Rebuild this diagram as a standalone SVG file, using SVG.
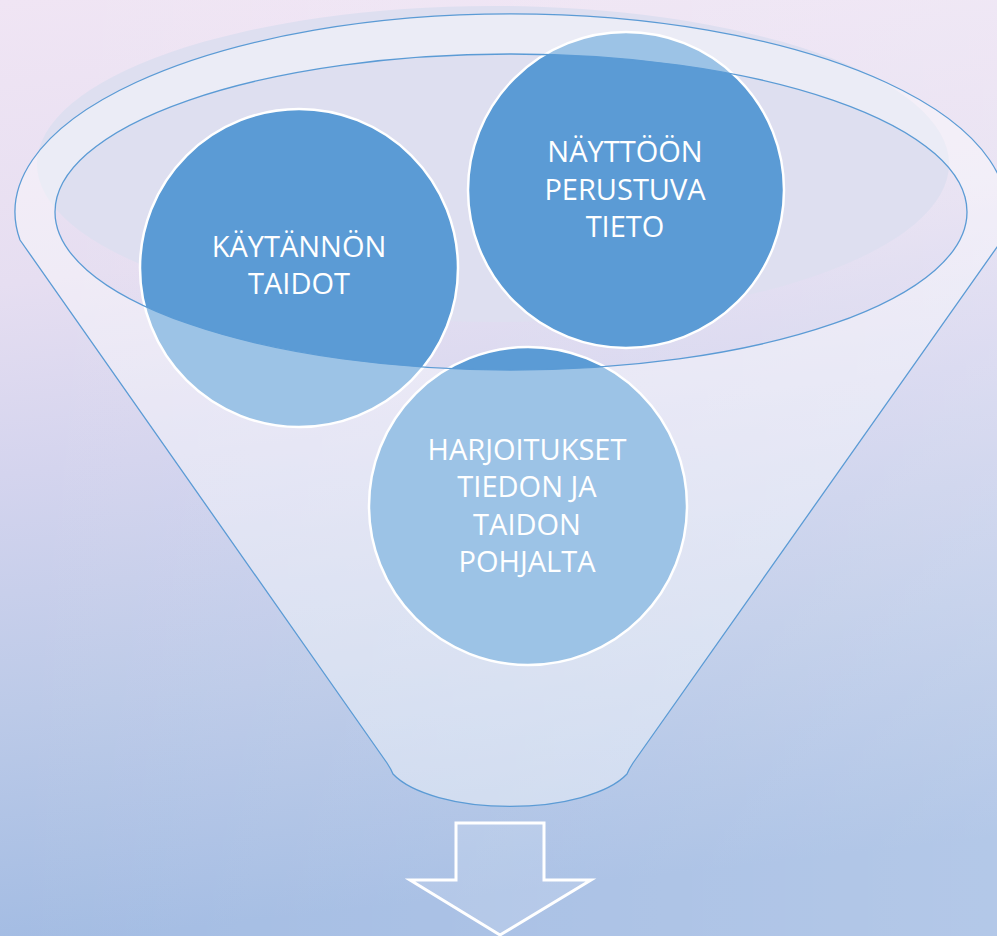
<svg xmlns="http://www.w3.org/2000/svg" width="997" height="936" viewBox="0 0 997 936">
  <defs>
    <linearGradient id="bg" x1="0" y1="0" x2="0.12" y2="1">
      <stop offset="0" stop-color="#f0e5f4"/>
      <stop offset="0.3" stop-color="#e6def1"/>
      <stop offset="0.5" stop-color="#d4d4ee"/>
      <stop offset="0.75" stop-color="#bccae8"/>
      <stop offset="1" stop-color="#a3bce3"/>
    </linearGradient>
    <linearGradient id="bgh" x1="0" y1="0" x2="1" y2="0">
      <stop offset="0" stop-color="#ffffff" stop-opacity="0"/>
      <stop offset="1" stop-color="#ffffff" stop-opacity="0.18"/>
    </linearGradient>
    <style>
      .circle { fill: #5b9bd5; stroke: #ffffff; stroke-width: 2.5; }
      .label { font-family: "Open Sans", "Liberation Sans", sans-serif; font-size: 29px; fill: #ffffff; text-anchor: middle; }
      .funnel-body { fill: #ffffff; fill-opacity: 0.4; fill-rule: evenodd; stroke: none; }
      .funnel-line { fill: none; stroke: #5b9bd5; stroke-width: 1.3; }
      .arrow { fill: #ffffff; fill-opacity: 0.12; stroke: #ffffff; stroke-width: 3; stroke-linejoin: miter; }
    </style>
  </defs>

  <rect x="0" y="0" width="997" height="936" fill="url(#bg)"/>
  <rect x="0" y="0" width="997" height="936" fill="url(#bgh)"/>

  <!-- back shading of funnel rim -->
  <g id="funnel-back">
    <ellipse cx="493" cy="164" rx="456" ry="158" fill="#dedff0"/>
  </g>

  <g id="node-kaytannon-taidot">
    <circle class="circle" cx="299" cy="268" r="159"/>
  </g>
  <g id="node-nayttoon-perustuva-tieto">
    <circle class="circle" cx="626" cy="190" r="158"/>
  </g>
  <g id="node-harjoitukset">
    <circle class="circle" cx="528" cy="506" r="159"/>
  </g>

  <!-- funnel front (semi-transparent) -->
  <g id="funnel">
    <path class="funnel-body" d="M 20 240 L 387 763 Q 391 769 393 774 A 125 50 0 0 0 627 774 Q 629 769 633 763 L 1002 240 A 496 198 0 1 0 20 240 Z M 55 212 A 456 158 0 1 0 967 212 A 456 158 0 1 0 55 212 Z"/>
    <path class="funnel-line" d="M 20 240 L 387 763 Q 391 769 393 774 A 125 50 0 0 0 627 774 Q 629 769 633 763 L 1002 240 A 496 198 0 1 0 20 240 Z"/>
    <ellipse class="funnel-line" cx="511" cy="212" rx="456" ry="158"/>
  </g>

  <g id="labels">
    <text class="label" x="299" y="257">KÄYTÄNNÖN</text>
    <text class="label" x="299" y="294">TAIDOT</text>
    <text class="label" x="625" y="162">NÄYTTÖÖN</text>
    <text class="label" x="625" y="200">PERUSTUVA</text>
    <text class="label" x="625" y="237">TIETO</text>
    <text class="label" x="527" y="460">HARJOITUKSET</text>
    <text class="label" x="527" y="497">TIEDON JA</text>
    <text class="label" x="527" y="535">TAIDON</text>
    <text class="label" x="527" y="572">POHJALTA</text>
  </g>

  <g id="connectors">
    <path class="arrow" d="M 456 823 L 544 823 L 544 880 L 591 880 L 500 935 L 410 880 L 456 880 Z"/>
  </g>
</svg>
